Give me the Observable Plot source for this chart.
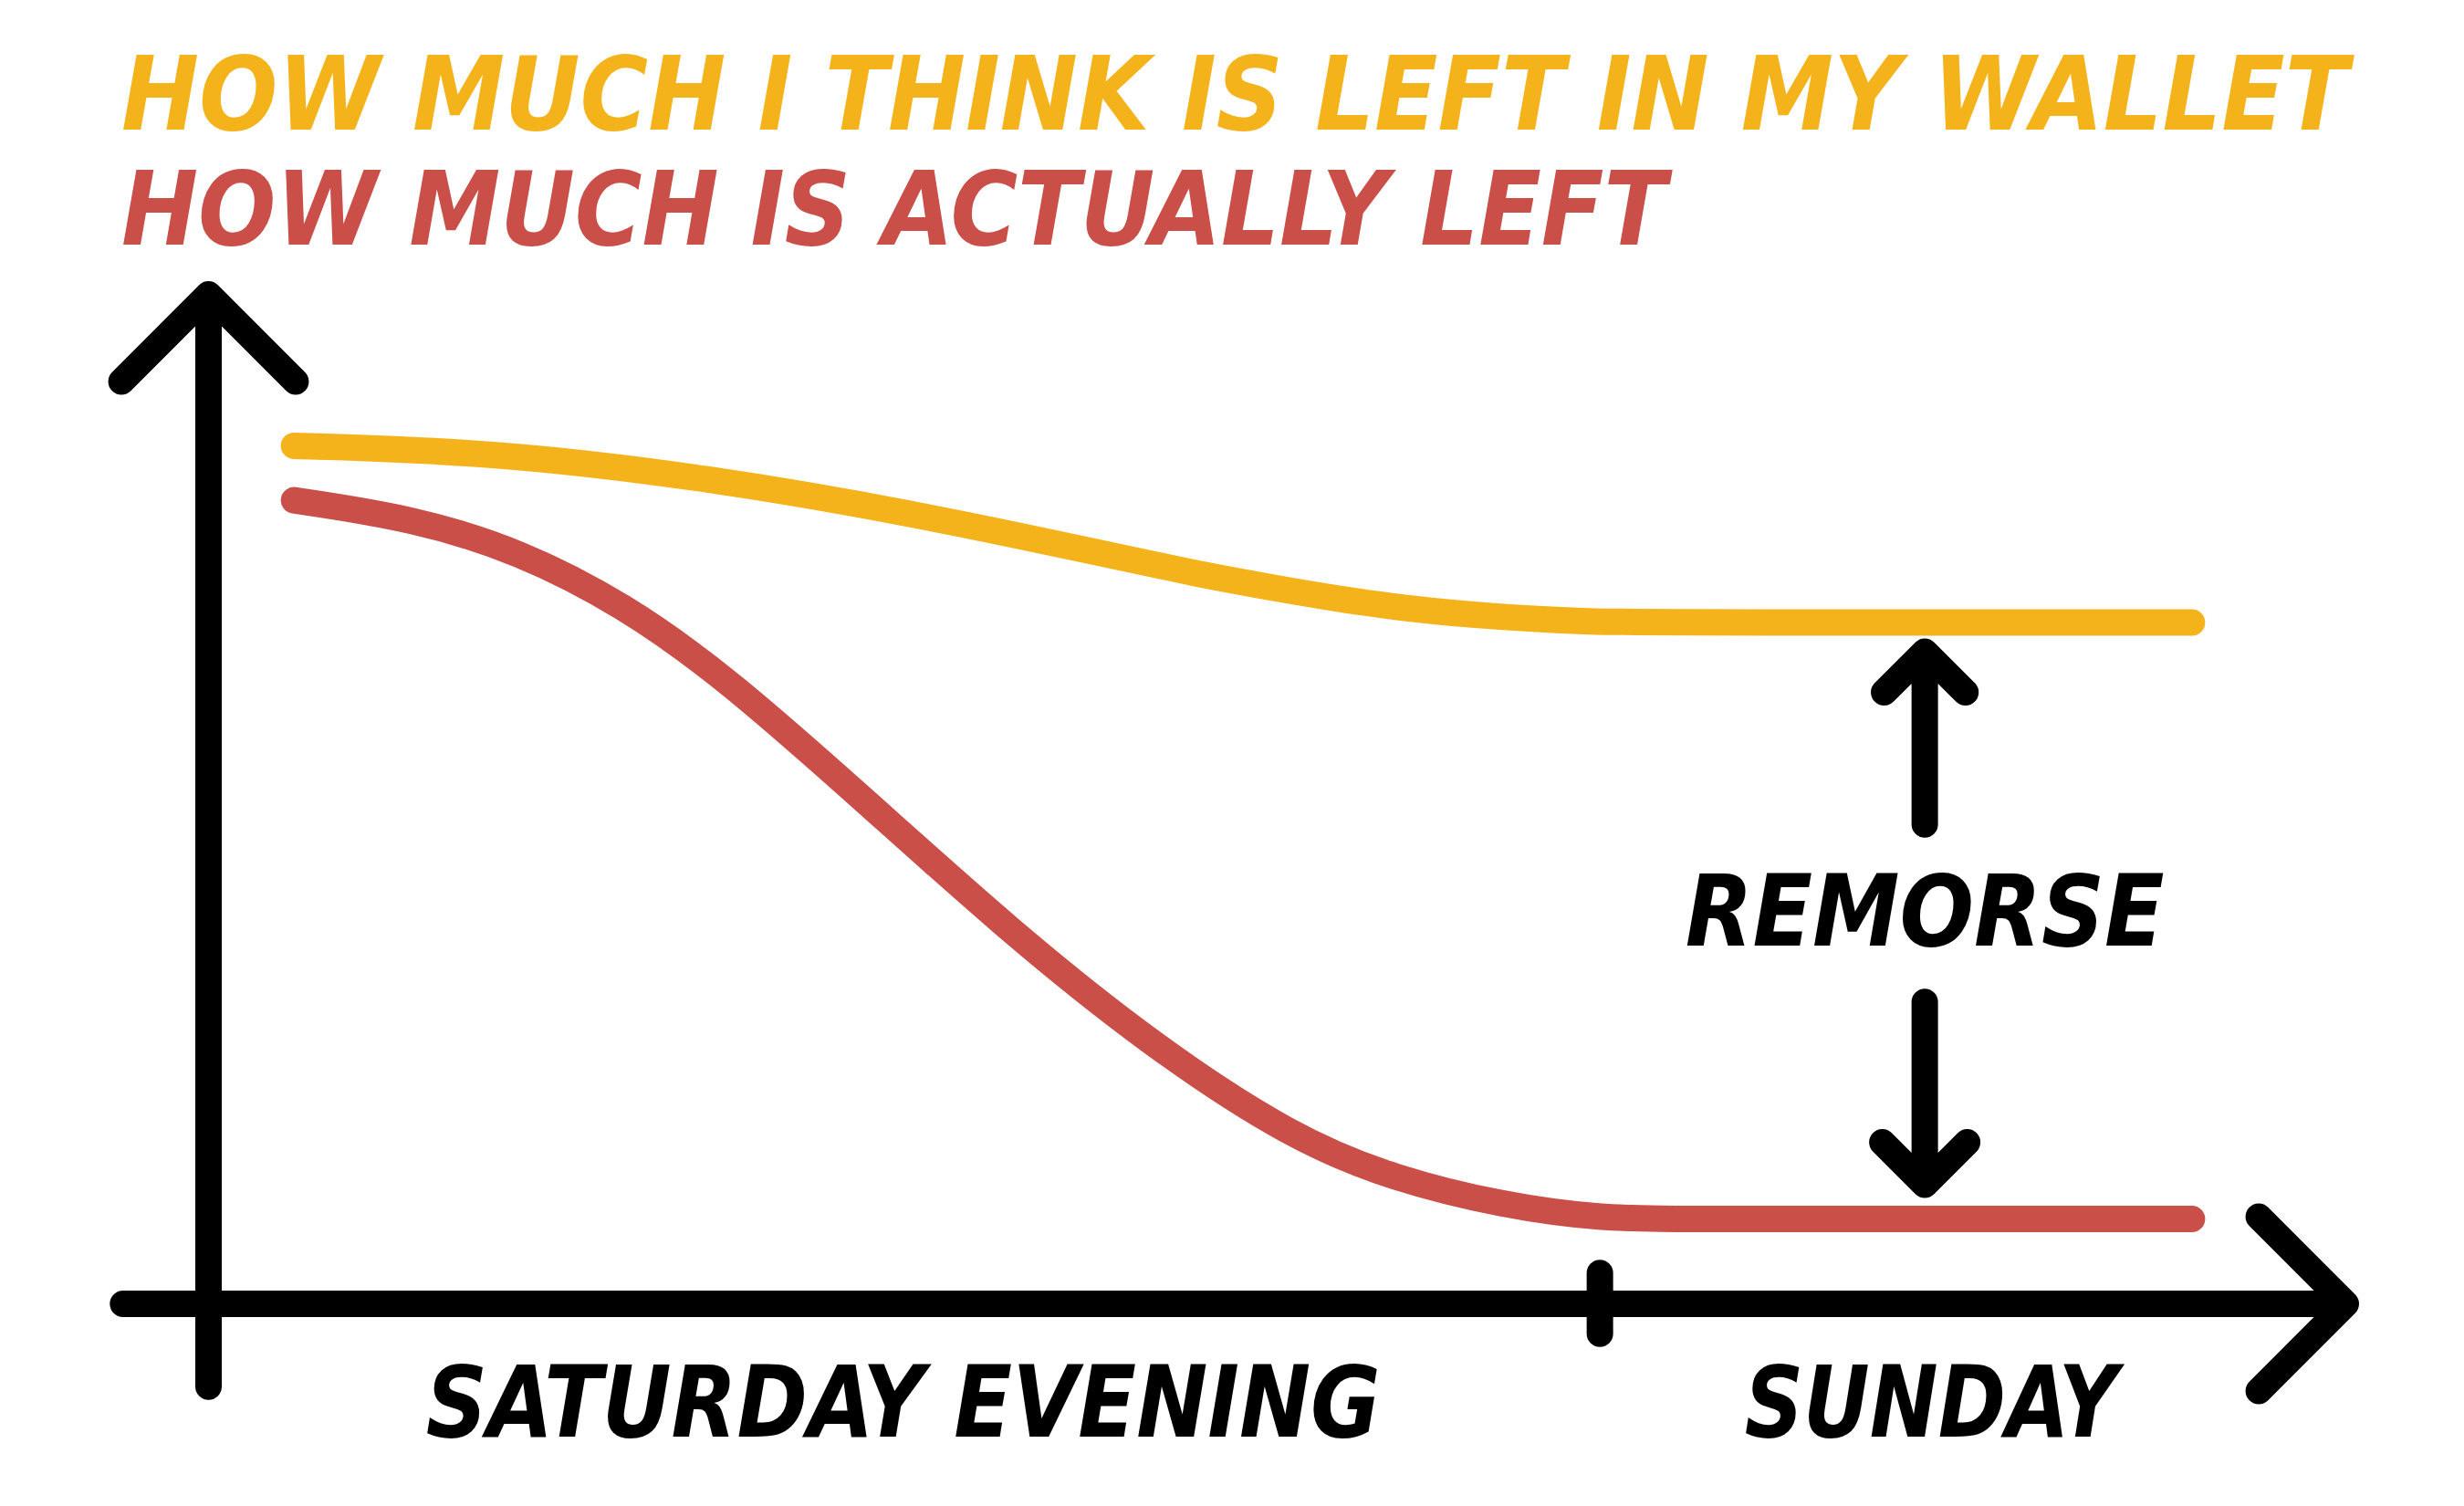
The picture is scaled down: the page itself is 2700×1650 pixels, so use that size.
<!DOCTYPE html>
<html>
<head>
<meta charset="utf-8">
<script src="https://cdn.jsdelivr.net/npm/d3@7"></script>
<script src="https://cdn.jsdelivr.net/npm/@observablehq/plot@0.6"></script>
<style>
  html, body { margin: 0; padding: 0; background: #fff; }
  #wrap { position: relative; width: 2700px; height: 1650px; overflow: hidden; background: #fff; }
  #titles { position: relative; width: 2700px; height: 290px; }
  .t { position: absolute; left: 133px; white-space: nowrap;
       font-family: "DejaVu Sans Condensed", "DejaVu Sans", sans-serif;
       font-weight: bold; font-style: italic; font-size: 112px; line-height: 112px;
       transform-origin: 0 0; }
  #t1 { top: 47px; }
  #t2 { top: 173px; }
  #chart { width: 2700px; height: 1360px; }
</style>
</head>
<body>
<div id="wrap">
  <div id="titles"><div class="t" id="t1"></div><div class="t" id="t2"></div></div>
  <div id="chart"></div>
</div>
<script>
// ---- data ----
const seriesNames = ["HOW MUCH I THINK IS LEFT IN MY WALLET", "HOW MUCH IS ACTUALLY LEFT"];
const seriesColors = ["#F5B31B", "#C94F48"];

// time (arbitrary units, y axis at 0) and money left (arbitrary units)
const thinkTime  = [4.0, 13.3, 23.5, 33.0, 41.7, 46.0, 50.4, 54.7, 59.1, 64.6, 70.0, 92.8];
const thinkMoney = [85.0, 84.4, 81.8, 78.3, 74.4, 72.4, 70.7, 69.2, 68.2, 67.5, 67.5, 67.5];

const actualTime  = [4.0, 9.6, 14.5, 19.4, 24.3, 31.0, 37.5, 44.0, 50.7, 55.6, 60.5, 65.1, 70.0, 92.8];
const actualMoney = [79.6, 77.8, 74.6, 69.3, 61.9, 49.3, 36.9, 25.8, 16.4, 12.3, 9.8, 8.4, 8.4, 8.4];

const tickLabels = ["SATURDAY EVENING", "SUNDAY"];
const tickLabelTime = [32.5, 80.6];
const dayBoundary = [65.1];

const remorseLabel = "REMORSE";
const remorseTime = 80.3;
const remorseMid = 38.6;
const remorseUp = [47.5, 64.6];     // shaft start, tip
const remorseDown = [29.9, 11.8];   // shaft start, tip

const xAxisExtent = [-4.0, 100];
const yAxisExtent = [-8.2, 100];

// ---- titles ----
const titleWidths = [2440, 1693];
["t1", "t2"].forEach((id, i) => {
  const el = document.getElementById(id);
  el.textContent = seriesNames[i];
  el.style.color = seriesColors[i];
  const w = el.getBoundingClientRect().width;
  el.style.transform = `scaleX(${titleWidths[i] / w})`;
});

// ---- tables ----
const lineData = [
  ...thinkTime.map((t, i) => ({t, v: thinkMoney[i], series: seriesNames[0]})),
  ...actualTime.map((t, i) => ({t, v: actualMoney[i], series: seriesNames[1]}))
];
const axisArrows = [
  {x1: 0, y1: yAxisExtent[0], x2: 0, y2: yAxisExtent[1]},
  {x1: xAxisExtent[0], y1: 0, x2: xAxisExtent[1], y2: 0}
];
const remorseArrows = [
  {x1: remorseTime, y1: remorseUp[0], x2: remorseTime, y2: remorseUp[1]},
  {x1: remorseTime, y1: remorseDown[0], x2: remorseTime, y2: remorseDown[1]}
];

const FONT = '"DejaVu Sans Condensed", "DejaVu Sans", sans-serif';

const svg = Plot.plot({
  width: 2700,
  height: 1360,
  marginLeft: 228,
  marginRight: 130,
  marginTop: 32,
  marginBottom: 222,
  x: {domain: [0, 100], label: null},
  y: {domain: [0, 100], axis: null, label: null},
  color: {domain: seriesNames, range: seriesColors},
  style: {fontFamily: FONT, fontSize: "108px", fontWeight: "bold", fontStyle: "italic", color: "black", background: "white"},
  marks: [
    Plot.line(lineData, {x: "t", y: "v", z: "series", stroke: "series", strokeWidth: 29,
      strokeLinecap: "round", strokeLinejoin: "round", curve: "basis"}),
    Plot.arrow(axisArrows, {x1: "x1", y1: "y1", x2: "x2", y2: "y2", stroke: "black", strokeWidth: 29,
      headAngle: 90, headLength: 6.98, strokeLinecap: "round", strokeLinejoin: "round"}),
    Plot.ruleX(dayBoundary, {y1: -3, y2: 3, stroke: "black", strokeWidth: 29, strokeLinecap: "round"}),
    Plot.arrow(remorseArrows, {x1: "x1", y1: "y1", x2: "x2", y2: "y2", stroke: "black", strokeWidth: 29,
      headAngle: 90, headLength: 3.4, strokeLinecap: "round", strokeLinejoin: "round"}),
    Plot.text([remorseLabel], {x: remorseTime, y: remorseMid, text: d => d, fill: "black",
      fontSize: 108, fontWeight: "bold", fontStyle: "italic", fontFamily: FONT}),
    Plot.axisX(tickLabelTime, {tickSize: 0, tickPadding: 69, label: null,
      tickFormat: d => tickLabels[tickLabelTime.indexOf(d)],
      fontSize: 108, fontWeight: "bold", fontStyle: "italic", fontFamily: FONT, fill: "black"})
  ]
});

const targetWidths = {"SATURDAY EVENING": 1046, "SUNDAY": 409, "REMORSE": 525};
svg.querySelectorAll("text").forEach(t => {
  const w = targetWidths[t.textContent.trim()];
  if (w) {
    t.setAttribute("textLength", w);
    t.setAttribute("lengthAdjust", "spacingAndGlyphs");
  }
});

document.getElementById("chart").appendChild(svg);
</script>
</body>
</html>
